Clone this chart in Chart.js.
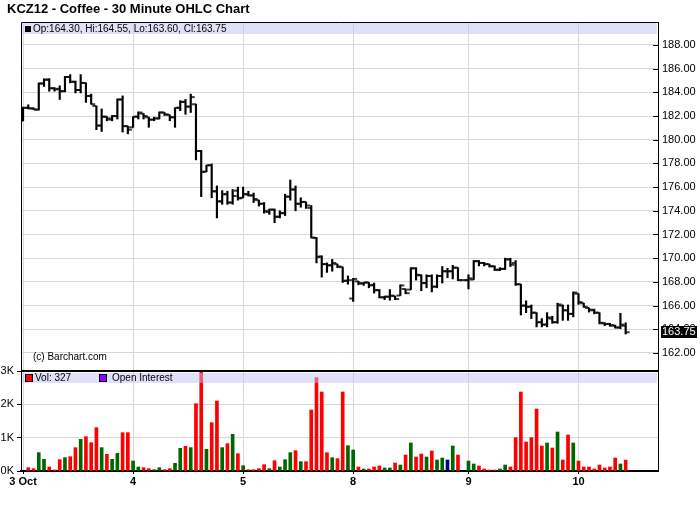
<!DOCTYPE html>
<html lang="en">
<head>
<meta charset="UTF-8">
<title>KCZ12 - Coffee - 30 Minute OHLC Chart</title>
<style>
  body { margin: 0; background: #fff; }
  #wrap { position: relative; width: 700px; height: 512px; background: #fff; overflow: hidden; }
  #priceChart { position: absolute; left: 0; top: 0; }
  #volChart { position: absolute; left: 0; top: 356px; }
</style>
</head>
<body>
<div id="wrap">
  <canvas id="priceChart" width="700" height="384"></canvas>
  <canvas id="volChart" width="700" height="156"></canvas>
</div>

<script src="https://cdn.jsdelivr.net/npm/chart.js"></script>
<script>
// day boundaries (bar index where each session starts) and their labels
const dayLabels = ['3 Oct', '4', '5', '8', '9', '10'];
const dayStarts = [0, 21, 42, 63, 85, 106];

// 30 minute bars, one row per session
const opens = [
  181.60,182.70,182.65,182.55,184.75,185.10,184.35,184.30,184.10,185.30,184.90,184.20,184.80,183.70,182.85,181.20,181.95,181.70,182.00,183.40,181.15,
  181.05,181.95,182.20,181.90,181.70,181.80,182.30,182.10,181.90,182.70,183.20,182.80,183.00,179.05,177.30,177.85,175.65,174.80,175.40,174.70,175.70,
  175.10,175.40,175.30,174.90,174.60,173.90,174.10,173.50,173.80,175.20,175.80,174.60,174.75,174.25,171.70,170.15,169.50,169.40,169.50,169.25,168.10,
  166.60,168.05,167.85,167.95,167.75,167.30,166.70,166.75,166.80,166.85,167.40,167.35,169.15,168.55,167.90,168.50,167.60,168.50,168.90,168.90,169.20,168.15,
  168.15,168.20,169.75,169.60,169.50,169.30,169.00,169.10,169.90,169.60,167.80,166.00,165.90,165.40,164.60,164.40,164.90,164.60,166.00,165.60,165.30,
  167.00,166.20,165.80,165.60,165.40,164.50,164.45,164.30,164.15,164.30
];
const highs = [
  182.75,182.95,182.70,184.80,185.15,185.15,184.40,184.55,185.35,185.50,184.95,185.50,184.80,183.85,182.85,182.60,181.95,182.05,183.45,183.70,181.15,
  181.95,182.35,182.20,181.90,181.90,182.35,182.30,182.10,182.70,183.30,183.40,183.85,183.00,179.10,177.85,177.95,176.10,175.70,175.65,175.80,176.00,
  176.00,175.65,175.50,174.90,174.70,174.15,174.15,174.00,175.40,176.60,176.10,175.10,174.75,174.45,171.75,170.20,169.60,169.90,169.50,169.25,168.50,
  168.30,168.05,167.95,167.95,167.90,167.35,166.80,167.35,166.80,167.75,167.40,169.20,169.20,168.60,168.60,168.60,168.60,169.30,169.15,169.40,169.20,168.15,
  168.60,169.80,169.80,169.65,169.50,169.35,169.20,170.00,170.00,169.80,167.80,166.40,166.05,165.40,164.90,165.40,165.10,166.20,166.05,166.05,167.15,
  167.00,166.20,165.80,165.70,165.40,164.55,164.50,164.35,165.35,164.55
];
const lows = [
  181.60,182.60,182.55,182.50,184.50,184.10,184.10,183.40,184.05,184.80,183.95,183.95,183.15,183.00,180.85,180.70,181.60,181.60,181.75,180.65,180.50,
  181.05,181.75,181.75,181.05,181.60,181.75,182.05,181.60,181.05,182.45,182.15,182.30,178.30,175.20,177.30,175.10,173.40,174.55,174.55,174.55,174.90,
  175.10,175.25,174.70,174.40,173.80,173.70,173.00,173.40,173.60,174.90,174.00,174.30,174.20,171.70,169.60,168.40,168.80,168.90,169.20,167.95,167.80,
  166.35,167.75,167.70,167.50,167.05,166.65,166.50,166.45,166.50,166.85,167.00,167.35,168.15,167.25,167.50,167.15,167.50,167.90,168.35,168.25,168.10,168.15,
  167.40,168.20,169.35,169.35,169.25,168.95,168.95,169.05,169.30,167.70,165.20,165.40,164.90,164.20,164.20,164.20,164.50,164.50,164.75,164.75,165.05,
  166.10,165.85,165.45,165.30,164.45,164.30,164.25,164.10,164.05,163.60
];
const closes = [
  182.70,182.65,182.55,184.75,185.05,184.35,184.25,184.10,185.30,184.90,184.20,184.80,183.70,183.00,181.20,181.95,181.80,182.00,183.40,181.15,180.85,
  181.95,182.30,182.00,181.70,181.80,182.30,182.15,181.90,182.70,183.20,182.80,183.60,179.05,177.30,177.85,175.65,174.80,175.40,174.70,175.25,175.05,
  175.40,175.30,175.00,174.60,174.00,174.10,173.50,173.80,175.20,175.80,174.60,174.75,174.45,171.75,170.10,169.50,169.40,169.60,169.30,168.10,168.15,
  168.25,167.90,167.95,167.70,167.30,166.70,166.75,166.85,166.55,167.70,167.05,169.15,168.60,167.90,168.50,167.60,168.50,168.90,168.90,169.20,168.15,168.15,
  168.30,169.75,169.60,169.50,169.35,169.05,169.10,169.90,169.45,167.80,166.00,165.90,165.40,164.60,164.40,165.00,164.60,166.10,165.60,165.30,167.10,
  166.30,165.90,165.65,165.40,164.55,164.45,164.35,164.15,164.40,163.75
];
const volumes = [
  0,100,70,550,350,120,30,340,400,430,700,950,1030,850,1300,700,500,350,530,1150,1150,
  300,120,100,70,40,100,40,70,230,680,740,700,2020,3200,650,1450,2100,700,820,1100,520,
  160,40,40,70,190,70,310,120,340,550,610,280,280,1830,2800,2370,550,400,370,2370,760,
  630,120,60,60,120,150,90,90,240,180,480,840,420,510,420,600,330,390,330,750,480,0,
  300,210,150,60,30,30,60,180,120,1000,2370,870,1000,1860,750,840,690,1170,330,1080,840,
  300,120,120,60,180,90,120,390,210,327
];

const priceTicks = [162, 164, 166, 168, 170, 172, 174, 176, 178, 180, 182, 184, 186, 188];
const volTicks = [0, 1000, 2000, 3000];

const FONT = '"Liberation Sans", Arial, sans-serif';
Chart.defaults.font.family = FONT;
Chart.defaults.color = '#000';

const GRID = '#d8d8d8';
const UP = '#006600', DOWN = '#ff0000', SAME = '#000080';

// shared x range so both panels line up bar for bar
const xMin = -0.39, xMax = 121.17;

const idx = closes.map((c, i) => i);
const last = closes.length - 1;

// little open / close ticks used as point images
function tickImage(left) {
    const c = document.createElement('canvas');
    c.width = 10;
    c.height = 4;
    const g = c.getContext('2d');
    g.fillStyle = '#000';
    g.fillRect(left ? 1 : 5, 1.25, 4, 1.5);
    return c;
}
const openTick = tickImage(true);
const closeTick = tickImage(false);

const priceDecor = {
    id: 'priceDecor',
    afterDraw(chart) {
        const {ctx, chartArea: a, scales: {y}} = chart;
        ctx.save();

        // title
        ctx.fillStyle = '#000';
        ctx.font = 'bold 13px ' + FONT;
        ctx.textBaseline = 'middle';
        ctx.fillText('KCZ12 - Coffee - 30 Minute OHLC Chart', 7, 9);

        // frame
        ctx.strokeStyle = '#000';
        ctx.lineWidth = 1;
        ctx.beginPath();
        ctx.moveTo(a.left + 0.5, a.bottom);
        ctx.lineTo(a.left + 0.5, a.top + 0.5);
        ctx.lineTo(a.right, a.top + 0.5);
        ctx.stroke();

        // inner tick marks on the price axis
        priceTicks.forEach(v => {
            const py = Math.round(y.getPixelForValue(v)) + 0.5;
            ctx.beginPath();
            ctx.moveTo(a.right - 5, py);
            ctx.lineTo(a.right, py);
            ctx.stroke();
        });

        // legend band
        ctx.fillStyle = 'rgba(194,194,241,0.5)';
        ctx.fillRect(a.left + 1, a.top + 1, a.right - a.left - 2, 11);
        ctx.fillStyle = '#000';
        ctx.fillRect(a.left + 4, a.top + 4, 6, 6);
        ctx.font = '10px ' + FONT;
        ctx.fillText('Op:' + opens[last].toFixed(2) + ', Hi:' + highs[last].toFixed(2) +
            ', Lo:' + lows[last].toFixed(2) + ', Cl:' + closes[last].toFixed(2), a.left + 12, a.top + 7);

        ctx.fillText('(c) Barchart.com', a.left + 12, 357);

        // last price box
        const ly = y.getPixelForValue(closes[last]);
        ctx.fillStyle = '#000';
        ctx.fillRect(a.right + 3, Math.round(ly) - 6, 36, 12);
        ctx.fillStyle = '#fff';
        ctx.font = '11px ' + FONT;
        ctx.fillText(closes[last].toFixed(2), a.right + 4, Math.round(ly));
        ctx.restore();
    }
};

new Chart(document.getElementById('priceChart'), {
    type: 'bar',
    data: {
        datasets: [
            {
                type: 'bar',
                data: idx.map(i => ({x: i, y: [lows[i], highs[i]]})),
                backgroundColor: '#000',
                borderWidth: 0,
                barThickness: 1.5,
                order: 2
            },
            {
                type: 'line',
                data: idx.map(i => ({x: i, y: opens[i]})),
                showLine: false,
                pointStyle: openTick,
                pointRadius: 3,
                order: 1
            },
            {
                type: 'line',
                data: idx.map(i => ({x: i, y: closes[i]})),
                showLine: false,
                pointStyle: closeTick,
                pointRadius: 3,
                order: 1
            }
        ]
    },
    options: {
        responsive: false,
        animation: false,
        events: [],
        layout: { padding: { left: 21, right: 0, top: 22, bottom: 0 } },
        plugins: { legend: { display: false }, tooltip: { enabled: false } },
        scales: {
            x: {
                type: 'linear',
                min: xMin,
                max: xMax,
                offset: false,
                afterBuildTicks: s => { s.ticks = dayStarts.map(v => ({value: v})); },
                afterFit: s => { s.height = 14; },
                ticks: { display: false },
                grid: { color: GRID, drawTicks: false, offset: false },
                border: { display: false }
            },
            y: {
                position: 'right',
                min: 160.56,
                max: 189.94,
                afterBuildTicks: s => { s.ticks = priceTicks.map(v => ({value: v})); },
                afterFit: s => { s.width = 42; },
                ticks: {
                    padding: 4,
                    font: { size: 11 },
                    callback: v => v.toFixed(2)
                },
                grid: { color: GRID, drawTicks: false },
                border: { color: '#000', width: 1 }
            }
        }
    },
    plugins: [priceDecor]
});

const volColors = idx.map(i => {
    if (i === 0 || closes[i] === closes[i - 1]) return SAME;
    return closes[i] > closes[i - 1] ? UP : DOWN;
});

const volDecor = {
    id: 'volDecor',
    afterDatasetsDraw(chart) {
        const {ctx, chartArea: a} = chart;
        ctx.save();
        // legend band over the bars
        ctx.fillStyle = 'rgba(194,194,241,0.5)';
        ctx.fillRect(a.left + 1, a.top + 2, a.right - a.left - 2, 10);
        ctx.fillStyle = DOWN;
        ctx.fillRect(a.left + 5, a.top + 4, 6, 6);
        ctx.fillStyle = '#9000ff';
        ctx.fillRect(a.left + 79, a.top + 4, 6, 6);
        ctx.strokeStyle = '#000';
        ctx.lineWidth = 1;
        ctx.strokeRect(a.left + 4.5, a.top + 3.5, 7, 7);
        ctx.strokeRect(a.left + 78.5, a.top + 3.5, 7, 7);
        ctx.fillStyle = '#000';
        ctx.font = '10px ' + FONT;
        ctx.textBaseline = 'middle';
        ctx.fillText('Vol: ' + volumes[last], a.left + 14, a.top + 7);
        ctx.fillText('Open Interest', a.left + 91, a.top + 7);

        // separator between panels and right frame
        ctx.lineWidth = 2;
        ctx.beginPath();
        ctx.moveTo(a.left, a.top);
        ctx.lineTo(a.right + 1, a.top);
        ctx.stroke();
        ctx.lineWidth = 1;
        ctx.beginPath();
        ctx.moveTo(a.right + 0.5, a.top);
        ctx.lineTo(a.right + 0.5, a.bottom);
        ctx.stroke();
        ctx.restore();
    }
};

new Chart(document.getElementById('volChart'), {
    type: 'bar',
    data: {
        datasets: [{
            data: idx.map(i => ({x: i, y: volumes[i]})),
            backgroundColor: volColors,
            borderWidth: 0,
            barThickness: 3
        }]
    },
    options: {
        responsive: false,
        animation: false,
        events: [],
        layout: { padding: { left: 0, right: 42, top: 15, bottom: 0 } },
        plugins: { legend: { display: false }, tooltip: { enabled: false } },
        scales: {
            x: {
                type: 'linear',
                min: xMin,
                max: xMax,
                offset: false,
                afterBuildTicks: s => { s.ticks = dayStarts.map(v => ({value: v})); },
                afterFit: s => { s.height = 41; },
                ticks: {
                    autoSkip: false,
                    maxRotation: 0,
                    padding: 1,
                    font: { size: 11, weight: 'bold' },
                    callback: v => dayLabels[dayStarts.indexOf(v)]
                },
                grid: { color: GRID, tickColor: '#000', tickLength: 3, offset: false },
                border: { color: '#000', width: 2 }
            },
            y: {
                position: 'left',
                min: 0,
                max: 3000,
                afterBuildTicks: s => { s.ticks = volTicks.map(v => ({value: v})); },
                afterFit: s => { s.width = 21; },
                ticks: {
                    padding: 3,
                    font: { size: 11 },
                    callback: v => (v / 1000) + 'K'
                },
                grid: { color: GRID, tickColor: '#000', tickLength: 4 },
                border: { color: '#000', width: 1 }
            }
        }
    },
    plugins: [volDecor]
});
</script>
</body>
</html>
